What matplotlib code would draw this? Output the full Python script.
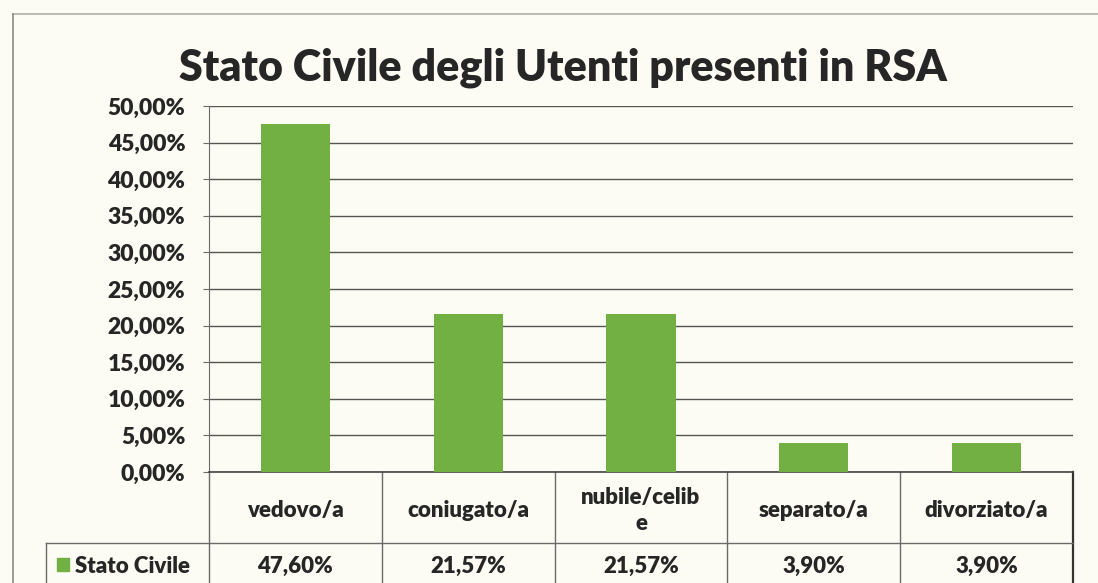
import matplotlib.pyplot as plt
from matplotlib.lines import Line2D
from matplotlib.patches import Rectangle

# Stato civile degli utenti in RSA (percentuali)
categorie = ['vedovo/a', 'coniugato/a', 'nubile/celib\ne', 'separato/a', 'divorziato/a']
valori = [47.60, 21.57, 21.57, 3.90, 3.90]
serie = 'Stato Civile'
titolo = 'Stato Civile degli Utenti presenti in RSA'
yticks = [0, 5, 10, 15, 20, 25, 30, 35, 40, 45, 50]

VERDE = '#72b043'
TESTO = '#262626'
SFONDO = '#fcfcf4'
GRIGIO = '#6a6a6a'

plt.rcParams['font.family'] = ['Lato', 'DejaVu Sans']


def pct(v):
    return f'{v:.2f}'.replace('.', ',') + '%'


fig = plt.figure(figsize=(10.98, 5.83), dpi=100, facecolor=SFONDO)
ax = fig.add_axes([0.1903, 0.1904, 0.7869, 0.6278])
ax.set_facecolor(SFONDO)

x = list(range(len(categorie)))
ax.bar(x, valori, width=0.4, color=VERDE, zorder=3)

ax.set_xlim(-0.5, len(categorie) - 0.5)
ax.set_ylim(0, 50)
ax.set_yticks(yticks)
ax.set_yticklabels([pct(v) for v in yticks], fontsize=16.5, fontweight='heavy', color=TESTO)
ax.tick_params(axis='y', length=4, color=GRIGIO, pad=13)
ax.set_xticks([])
ax.grid(axis='y', color='#555555', linewidth=1.0, zorder=0)

for s in ['top', 'right']:
    ax.spines[s].set_visible(False)
ax.spines['left'].set_color(GRIGIO)
ax.spines['bottom'].set_color('#444444')
ax.spines['bottom'].set_linewidth(1.2)

# tabella dati sotto il grafico
tr = ax.get_xaxis_transform()
riga1 = -0.194
fondo = -0.40
x_legenda = -1.442


def linea(xs, ys, **kw):
    ax.add_line(Line2D(xs, ys, transform=tr, clip_on=False,
                       color=kw.pop('color', GRIGIO), linewidth=kw.pop('lw', 1.0), **kw))


for i in range(len(categorie) + 1):
    ultima = i == len(categorie)
    linea([i - 0.5, i - 0.5], [0, fondo], lw=1.6 if ultima else 1.0,
          color='#333333' if ultima else GRIGIO)
linea([x_legenda, len(categorie) - 0.5], [riga1, riga1])
linea([x_legenda, x_legenda], [riga1, fondo])

for xi, cat, v in zip(x, categorie, valori):
    ax.text(xi, -0.104, cat, transform=tr, ha='center', va='center',
            fontsize=16, fontweight='heavy', color=TESTO, linespacing=1.3)
    ax.text(xi, -0.258, pct(v), transform=tr, ha='center', va='center',
            fontsize=16, fontweight='heavy', color=TESTO)

ax.add_patch(Rectangle((-1.379, -0.2705), 0.069, 0.0355, transform=tr,
                       color=VERDE, clip_on=False))
ax.text(-1.275, -0.258, serie, transform=tr, ha='left', va='center',
        fontsize=16, fontweight='heavy', color=TESTO)

# cornice esterna del grafico
fig.add_artist(Line2D([0.012, 1.0], [0.976, 0.976], color='#b0b0a8', lw=1.2))
fig.add_artist(Line2D([0.012, 0.012], [0.0, 0.976], color='#8a8a84', lw=1.2))

fig.text(0.513, 0.883, titolo, ha='center', va='center',
         fontsize=31, fontweight='heavy', color=TESTO)

fig.savefig('out.png', dpi=100, facecolor=SFONDO)
